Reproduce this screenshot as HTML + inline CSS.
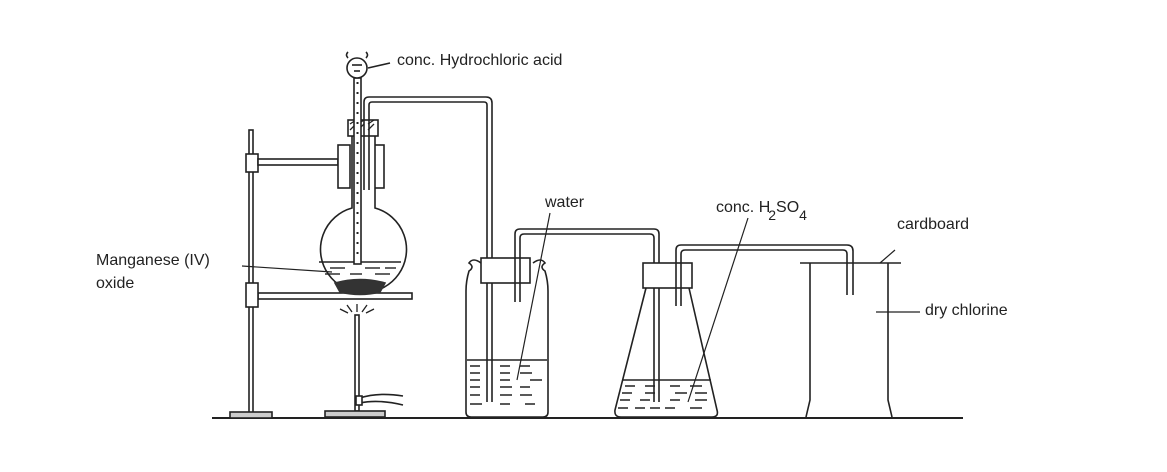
<!DOCTYPE html>
<html><head><meta charset="utf-8"><style>
html,body{margin:0;padding:0;background:#fff;}
svg{display:block;}
text{font-family:"Liberation Sans",sans-serif;font-size:16px;fill:#222;}
</style></head><body>
<svg width="1167" height="472" viewBox="0 0 1167 472" xmlns="http://www.w3.org/2000/svg" fill="none" stroke="#222" stroke-width="1.6">
<!-- ground -->
<line x1="212" y1="418" x2="963" y2="418" stroke-width="2"/>
<!-- stand -->
<rect x="249" y="130" width="4" height="283"/>
<rect x="230" y="412" width="42" height="6" fill="#ccc"/>
<rect x="246" y="154" width="12" height="18" fill="#fff"/>
<rect x="258" y="159" width="80" height="6" fill="#fff"/>
<rect x="338" y="145" width="12" height="43" fill="#fff"/>
<rect x="373" y="145" width="11" height="43" fill="#fff"/>
<rect x="258" y="293" width="154" height="6" fill="#fff"/>
<rect x="246" y="283" width="12" height="24" fill="#fff"/>
<!-- flask -->
<path d="M352 135 L352 208 A43 43 0 1 0 375 208 L375 135" fill="#fff"/>
<line x1="319" y1="262" x2="401" y2="262"/>
<g stroke-width="1.4">
<line x1="330" y1="268" x2="345" y2="268"/><line x1="365" y1="268" x2="380" y2="268"/><line x1="385" y1="268" x2="396" y2="268"/>
<line x1="325" y1="274" x2="340" y2="274"/><line x1="350" y1="274" x2="362" y2="274"/><line x1="375" y1="274" x2="390" y2="274"/>
</g>
<path d="M335 283 Q360 276 385 283 L380 292 Q360 297 340 292 Z" fill="#333" stroke="#333"/>
<!-- stopper -->
<rect x="348" y="120" width="30" height="16" fill="#fff"/>
<path d="M350 124 l6 -4 M350 130 l6 -6 M358 124 l6 -4 M358 130 l6 -6 M368 124 l6 -4 M368 130 l6 -6" stroke-width="1.3"/>
<!-- funnel -->
<rect x="354" y="78" width="7" height="186" fill="#fff"/>
<g stroke-width="2" stroke-dasharray="2 8"><line x1="357.5" y1="82" x2="357.5" y2="262"/></g>
<circle cx="357" cy="68" r="10" fill="#fff"/>
<line x1="352" y1="65" x2="362" y2="65"/><line x1="354" y1="71" x2="360" y2="71"/>
<path d="M348 58 q-3 -3 0 -6 M366 58 q3 -3 0 -6"/>
<line x1="368" y1="68" x2="390" y2="63"/>
<!-- delivery tube 1 -->
<path d="M364 190 L364 102 Q364 97 369 97 L486 97 Q492 97 492 103 L492 402" />
<path d="M369 190 L369 105 Q369 102 372 102 L484 102 Q487 102 487 105 L487 402"/>
<!-- burner -->
<rect x="355" y="315" width="4" height="96"/>
<rect x="325" y="411" width="60" height="6" fill="#ccc"/>
<path d="M357 312 v-8 M352 312 l-5 -7 M362 312 l5 -7 M348 313 l-8 -4 M366 313 l8 -4" stroke-width="1.3"/>
<path d="M360 398 q18 -6 43 -2 M360 403 q18 -4 43 2" />
<rect x="356" y="396" width="6" height="9" fill="#fff"/>
<!-- bottle 1 -->
<path d="M481 263 q-8 -6 -12 0 q6 4 0 8 q-3 10 -3 20 L466 412 q0 5 5 5 L543 417 q5 0 5 -5 L548 291 q0 -10 -3 -20 q-6 -4 0 -8 q-4 -6 -12 0"/>
<rect x="481" y="258" width="49" height="25" fill="#fff"/>
<line x1="467" y1="360" x2="547" y2="360"/>
<g stroke-width="1.5">
<path d="M470 366h10M500 366h10M520 366h10M470 373h10M500 373h10M520 373h12M470 380h10M500 380h10M530 380h12M470 387h10M500 387h12M520 387h10M470 395h10M500 395h12M520 395h12M470 404h12M500 404h10M525 404h10"/>
</g>
<!-- pipe 2 -->
<path d="M515 302 L515 234 Q515 229 520 229 L654 229 Q659 229 659 234 L659 402"/>
<path d="M520 302 L520 238 Q520 234 524 234 L650 234 Q654 234 654 238 L654 402"/>
<!-- conical flask -->
<path d="M646 288 L615 410 q-1 7 6 7 L712 417 q7 0 5 -7 L689 288"/>
<rect x="643" y="263" width="49" height="25" fill="#fff"/>
<line x1="622" y1="380" x2="711" y2="380"/>
<g stroke-width="1.5">
<path d="M625 386h10M645 386h10M670 386h10M690 386h12M622 393h10M645 393h10M675 393h12M695 393h12M620 400h10M640 400h10M670 400h10M695 400h12M618 408h10M635 408h10M650 408h10M665 408h10M690 408h12"/>
</g>
<!-- pipe 3 -->
<path d="M676 306 L676 250 Q676 245 681 245 L847 245 Q853 245 853 251 L853 295"/>
<path d="M681 306 L681 254 Q681 250 685 250 L843 250 Q847 250 847 254 L847 295"/>
<!-- cylinder -->
<line x1="800" y1="263" x2="901" y2="263"/>
<path d="M810 263 L810 400 L806 417 M888 263 L888 400 L892 417"/>
<!-- label lines -->
<path d="M550 213 L517 380 M748 218 L688 402 M880 263 L895 250 M876 312 L920 312 M242 266 L332 272" stroke-width="1.2"/>
</svg>
<div style="position:absolute;left:0;top:0;font-family:'Liberation Sans',sans-serif;font-size:16px;color:#222;">
<div style="position:absolute;left:397px;top:52px;white-space:nowrap">conc. Hydrochloric acid</div>
<div style="position:absolute;left:545px;top:194px">water</div>
<div style="position:absolute;left:716px;top:199px;white-space:nowrap">conc. H<sub style="font-size:14px;vertical-align:-8px;margin-left:-2px">2</sub>SO<sub style="font-size:14px;vertical-align:-8px">4</sub></div>
<div style="position:absolute;left:897px;top:216px">cardboard</div>
<div style="position:absolute;left:925px;top:302px;white-space:nowrap">dry chlorine</div>
<div style="position:absolute;left:96px;top:252px;white-space:nowrap">Manganese (IV)</div>
<div style="position:absolute;left:96px;top:275px">oxide</div>
</div>
</body></html>
